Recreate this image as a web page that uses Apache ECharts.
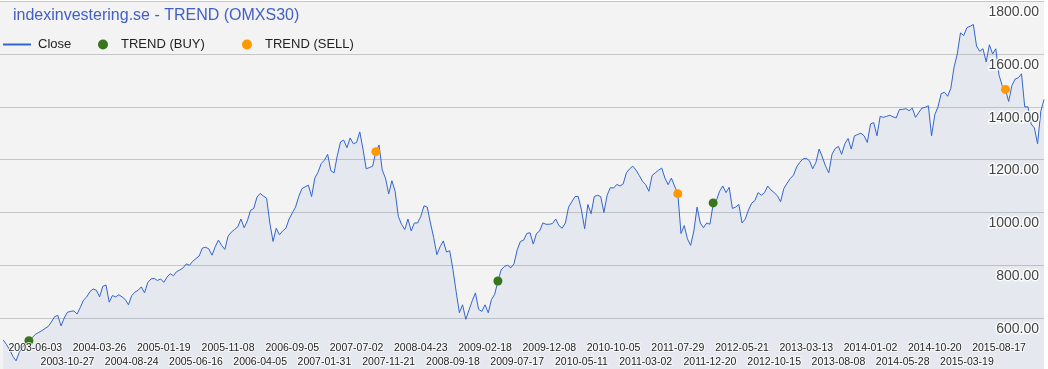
<!DOCTYPE html>
<html>
<head>
<meta charset="utf-8">
<script src="https://cdn.jsdelivr.net/npm/echarts@6/dist/echarts.min.js"></script>
<style>
html,body{margin:0;padding:0;background:#fff;}
#chart{width:1048px;height:369px;}
</style>
</head>
<body>
<div id="chart"></div>
<script>
// Closing values, one sample every 10 trading days (OMXS30, 2003-2015)
const close = [
517,500,480,455,438,470,490,505,514,525,
538,545,552,560,568,585,605,610,570,600,
622,625,627,615,640,668,680,700,710,705,
680,720,725,660,685,680,688,680,670,650,
685,698,705,718,695,735,748,750,742,748,
735,755,768,760,776,782,790,805,800,815,
825,835,865,868,862,838,870,895,875,860,
910,925,935,945,975,942,968,1008,1015,1058,
1072,1062,1054,960,890,940,915,930,940,975,
998,1020,1060,1090,1097,1103,1060,1130,1152,1185,
1198,1220,1158,1150,1215,1267,1274,1245,1282,1260,
1265,1305,1240,1165,1170,1175,1230,1255,1160,1130,
1070,1120,1080,985,955,935,975,930,960,960,
985,1025,1020,960,905,840,870,892,850,855,
784,700,620,650,595,630,665,695,633,625,
650,620,670,690,740,782,795,800,790,805,
858,890,895,920,923,880,920,930,960,955,
955,958,975,950,940,960,1020,1040,1060,1060,
1010,938,1030,995,1060,1065,1060,1000,1065,1094,
1092,1106,1100,1108,1150,1165,1175,1160,1140,1118,
1105,1080,1140,1150,1160,1168,1130,1105,1130,1100,
1071,920,950,900,875,930,1020,960,942,960,
955,1030,1045,1080,1100,1075,1095,1015,1020,1030,
960,975,1009,1035,1045,1075,1065,1075,1100,1085,
1075,1063,1040,1090,1110,1128,1141,1172,1190,1203,
1205,1195,1165,1190,1240,1210,1175,1150,1220,1242,
1250,1220,1260,1280,1240,1290,1295,1300,1290,1265,
1335,1340,1290,1364,1360,1364,1368,1362,1358,1390,
1390,1393,1385,1395,1360,1378,1395,1398,1404,1290,
1370,1400,1450,1455,1440,1470,1550,1600,1680,1670,
1700,1705,1712,1630,1610,1620,1570,1635,1600,1620,
1520,1480,1466,1420,1480,1505,1510,1525,1400,1400,
1335,1320,1260,1383,1428
];
// Date tick labels: every 10th sample, starting at sample 10
const tickLabels = [
'2003-06-03','2003-10-27','2004-03-26','2004-08-24','2005-01-19','2005-06-16',
'2005-11-08','2006-04-05','2006-09-05','2007-01-31','2007-07-02','2007-11-21',
'2008-04-23','2008-09-18','2009-02-18','2009-07-17','2009-12-08','2010-05-11',
'2010-10-05','2011-03-02','2011-07-29','2011-12-20','2012-05-21','2012-10-15',
'2013-03-13','2013-08-08','2014-01-02','2014-05-28','2014-10-20','2015-03-19',
'2015-08-17'
];
const buyIdx = [8, 154, 221];
const buyVal = [514, 740, 1036];
const sellIdx = [116, 210, 312];
const sellVal = [1230, 1071, 1466];
const yTicks = {min: 400, max: 1800, interval: 200};

// one empty leading category, then one category per sample
const categories = [''].concat(close.map((_, i) => 's' + i));
const closeData = [null].concat(close);
const buyData = buyIdx.map((i, k) => [i + 1, buyVal[k]]);
const sellData = sellIdx.map((i, k) => [i + 1, sellVal[k]]);

function tickIndex(catIdx) {
  const s = catIdx - 1;
  if (s < 10 || (s - 10) % 10 !== 0) return -1;
  const k = (s - 10) / 10;
  return k < tickLabels.length ? k : -1;
}

const font = "'Liberation Sans', Arial, sans-serif";
function labelAxis(row, margin) {
  return {
    type: 'category', data: categories, boundaryGap: false, position: 'bottom', offset: -35, z: 10,
    axisLine: {show: false}, axisTick: {show: false}, splitLine: {show: false},
    axisLabel: {
      interval: (idx) => { const k = tickIndex(idx); return k >= 0 && k % 2 === row; },
      formatter: (val, idx) => { const k = tickIndex(idx); return k >= 0 ? tickLabels[k] : ''; },
      hideOverlap: false,
      fontFamily: font, fontSize: 10.5, color: '#222', margin: margin,
      verticalAlign: 'top', lineHeight: 13,
      textBorderColor: 'rgba(255,255,255,0.75)', textBorderWidth: 2
    }
  };
}

const chart = echarts.init(document.getElementById('chart'), null, {renderer: 'canvas'});
chart.setOption({
  animation: false,
  backgroundColor: '#ffffff',
  title: {
    text: 'indexinvestering.se - TREND (OMXS30)',
    left: 13, top: 8, padding: 0,
    textStyle: {fontFamily: font, fontSize: 16, fontWeight: 'normal', color: '#4160c6'}
  },
  legend: [
    {data: [{name: 'Close', icon: 'rect'}], left: 3, top: 38, padding: 0, itemWidth: 28, itemHeight: 2,
     textStyle: {fontFamily: font, fontSize: 13, color: '#222', padding: [0, 0, 0, 2]}},
    {data: ['TREND (BUY)'], left: 98, top: 38, padding: 0, icon: 'circle', itemWidth: 26, itemHeight: 10,
     textStyle: {fontFamily: font, fontSize: 13, color: '#222'}},
    {data: ['TREND (SELL)'], left: 242, top: 38, padding: 0, icon: 'circle', itemWidth: 26, itemHeight: 10,
     textStyle: {fontFamily: font, fontSize: 13, color: '#222'}}
  ],
  grid: {
    left: 0, right: 4, top: 1.2, bottom: -1.8,
    show: true, backgroundColor: '#f3f3f3', borderWidth: 0,
    containLabel: false, outerBoundsMode: 'none'
  },
  xAxis: [labelAxis(0, 6), labelAxis(1, 19.4)],
  yAxis: [
    {type: 'value', position: 'left', min: yTicks.min, max: yTicks.max, interval: yTicks.interval,
     axisLine: {show: false}, axisTick: {show: false}, axisLabel: {show: false},
     splitLine: {show: true, lineStyle: {color: '#c6c6c6', width: 1}}},
    {type: 'value', position: 'right', min: yTicks.min, max: yTicks.max, interval: yTicks.interval, z: 10,
     axisLine: {show: false}, axisTick: {show: false}, splitLine: {show: false},
     axisLabel: {inside: true, margin: 5, showMinLabel: false, formatter: (v) => v.toFixed(2),
       fontFamily: font, fontSize: 14, color: '#444', verticalAlign: 'top', padding: [4, 0, 0, 0],
       textBorderColor: 'rgba(255,255,255,0.85)', textBorderWidth: 3}}
  ],
  series: [
    {name: 'Close', type: 'line', data: closeData, xAxisIndex: 0, yAxisIndex: 0, symbol: 'none', showSymbol: false,
     lineStyle: {color: '#3366cc', width: 1}, itemStyle: {color: '#3366cc'},
     areaStyle: {color: 'rgba(51,102,204,0.1)'}, z: 2},
    {name: 'TREND (BUY)', type: 'scatter', data: buyData, xAxisIndex: 0, yAxisIndex: 0, symbolSize: 9,
     itemStyle: {color: '#38761d', opacity: 1}, z: 5},
    {name: 'TREND (SELL)', type: 'scatter', data: sellData, xAxisIndex: 0, yAxisIndex: 0, symbolSize: 9,
     itemStyle: {color: '#ff9900', opacity: 1}, z: 5}
  ]
});
</script>
</body>
</html>
